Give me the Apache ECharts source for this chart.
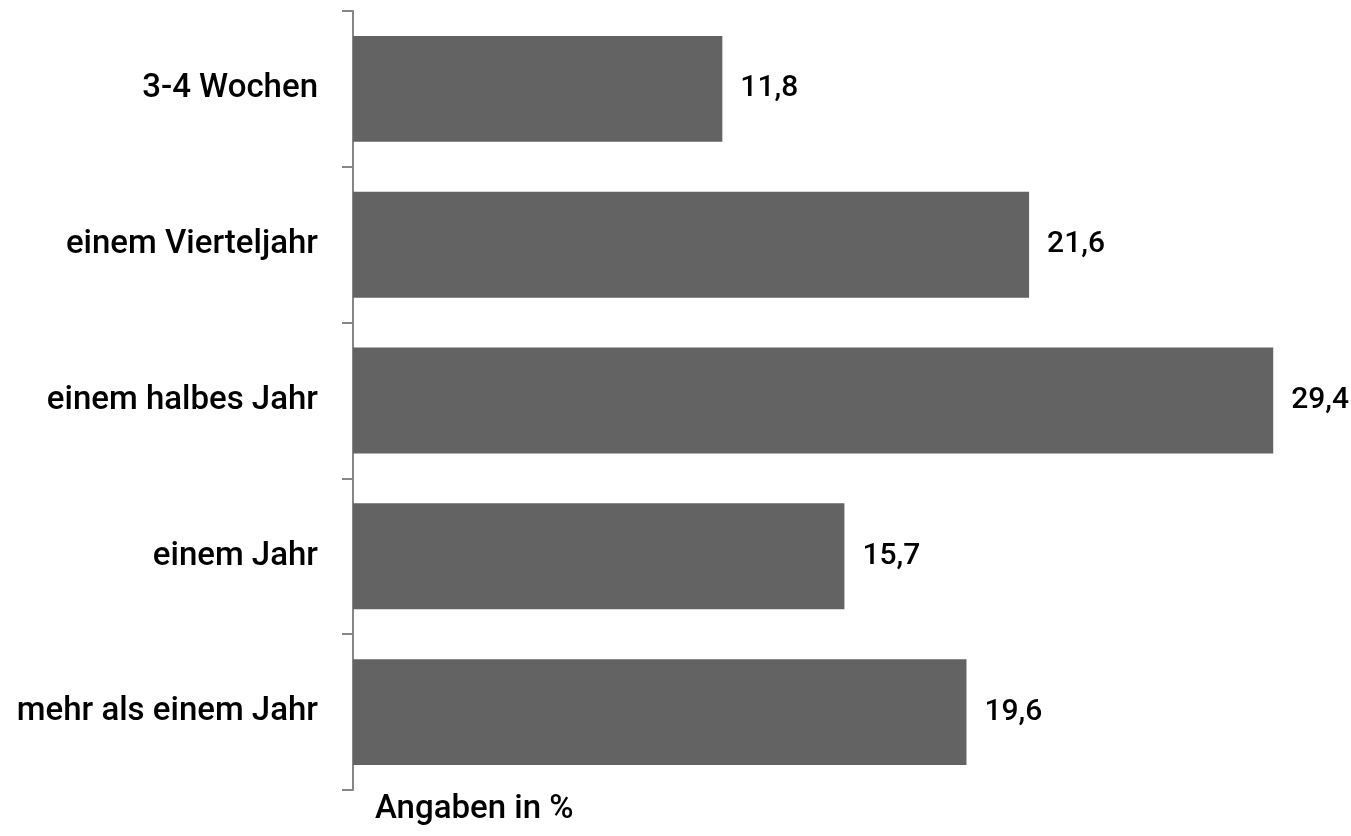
<!DOCTYPE html>
<html><head><meta charset="utf-8">
<script src="https://cdn.jsdelivr.net/npm/echarts@6/dist/echarts.min.js"></script>
<style>html,body{margin:0;padding:0;background:#fff}#c{width:1351px;height:836px}</style>
</head><body><div id="c"></div>
<script>
const categories = ["3-4 Wochen", "einem Vierteljahr", "einem halbes Jahr", "einem Jahr", "mehr als einem Jahr"];
const values = [11.8, 21.6, 29.4, 15.7, 19.6];
const axisName = "Angaben in %";
const FONT = "Roboto, 'Liberation Sans', sans-serif";
const WEIGHT = 500;

const chart = echarts.init(document.getElementById('c'));
chart.setOption({
  animation: false,
  backgroundColor: '#ffffff',
  title: {
    text: axisName, left: 370, top: 788,
    textStyle: { fontFamily: FONT, fontSize: 33, fontWeight: WEIGHT, color: '#000' }
  },
  grid: { left: 353, top: 11, right: 59, height: 779, containLabel: false },
  xAxis: { type: 'value', min: 0, max: 30, show: false },
  yAxis: {
    type: 'category', data: categories, inverse: true,
    axisLine: { show: true, lineStyle: { color: '#868686', width: 2 } },
    axisTick: { show: true, length: 11, inside: false, lineStyle: { color: '#868686', width: 2 } },
    axisLabel: { margin: 35, color: '#000', fontFamily: FONT, fontSize: 33, fontWeight: WEIGHT },
    splitLine: { show: false }
  },
  series: [{
    type: 'bar', data: values, barCategoryGap: '32%',
    itemStyle: { color: '#636363' },
    label: {
      show: true, position: 'right', distance: 18, color: '#000',
      fontFamily: FONT, fontSize: 30, fontWeight: WEIGHT,
      formatter: p => String(p.value).replace('.', ',')
    }
  }]
});
</script></body></html>
